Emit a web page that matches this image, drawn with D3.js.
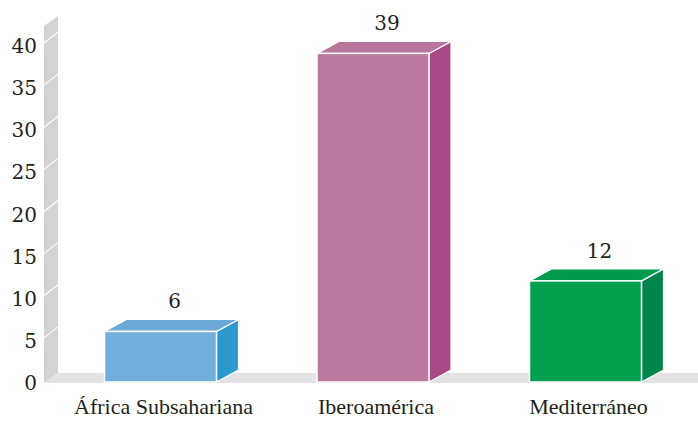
<!DOCTYPE html>
<html><head><meta charset="utf-8">
<script src="https://cdn.jsdelivr.net/npm/d3@7"></script>
<style>body{margin:0;background:#fff}svg{display:block}
svg text{font-family:"Liberation Serif","DejaVu Serif",serif;fill:#231f20}
svg text.num{font-family:"DejaVu Serif","Liberation Serif",serif}</style>
</head><body>
<svg id="chart" width="698" height="421"></svg>
<script>
const categories = ["África Subsahariana", "Iberoamérica", "Mediterráneo"];
const values = [6, 39, 12];
const tickValues = [0, 5, 10, 15, 20, 25, 30, 35, 40];
const frontColors = ["#71aedb", "#bc79a0", "#00a04f"];
const sideColors = ["#2d98cf", "#a84985", "#00864a"];
const topColors = ["#6ca9d7", "#b9759c", "#009a4c"];

const W = 698, H = 421;
const svg = d3.select("#chart");
const y = d3.scaleLinear().domain([0, 40]).range([382, 45]);
const x = d3.scaleBand().domain(categories).range([50, 696]).paddingInner(0.473).paddingOuter(0.2565);
const dx = 22, dy = 12;       // bar depth
const wx0 = 44, wx1 = 58;     // wall

// wall
svg.append("polygon")
  .attr("points", [[wx0, 26], [wx1, 16], [wx1, y(0) - 9], [wx0, y(0) + 1]].map(p => p.join(",")).join(" "))
  .attr("fill", "#d3d3d5");
// floor
svg.append("polygon")
  .attr("points", [[wx0, y(0) + 1], [wx1, y(0) - 9], [W, y(0) - 9], [W, y(0) + 1]].map(p => p.join(",")).join(" "))
  .attr("fill", "#e3e3e5");

// wall gridlines
svg.append("g").selectAll("line").data(tickValues.filter(v => v > 0)).join("line")
  .attr("x1", wx0).attr("x2", wx1)
  .attr("y1", d => y(d) - 2).attr("y2", d => y(d) - 13)
  .attr("stroke", "#fff").attr("stroke-width", 1.2);

// y axis tick labels
const yAxis = d3.axisLeft(y).tickValues(tickValues).tickSize(0).tickPadding(0);
const ya = svg.append("g").attr("transform", "translate(37,0)").call(yAxis);
ya.select(".domain").remove();
ya.attr("font-family", null);
ya.selectAll("text").attr("class", "num").style("font-size", "20px").attr("dy", "0.38em");

// bars
const bars = svg.append("g").selectAll("g").data(categories).join("g");
bars.each(function (c, i) {
  const g = d3.select(this);
  const x0 = x(c), x1 = x(c) + x.bandwidth();
  const yt = y(values[i]), yb = y(0);
  g.append("polygon")
    .attr("points", [[x1, yt], [x1 + dx, yt - dy], [x1 + dx, yb - dy], [x1, yb]].map(p => p.join(",")).join(" "))
    .attr("fill", sideColors[i]).attr("stroke", "#fff").attr("stroke-width", 1.2).attr("stroke-linejoin", "round");
  g.append("polygon")
    .attr("points", [[x0, yt], [x0 + dx, yt - dy], [x1 + dx, yt - dy], [x1, yt]].map(p => p.join(",")).join(" "))
    .attr("fill", topColors[i]).attr("stroke", "#fff").attr("stroke-width", 1.2).attr("stroke-linejoin", "round");
  g.append("rect")
    .attr("x", x0).attr("y", yt).attr("width", x.bandwidth()).attr("height", yb - yt)
    .attr("fill", frontColors[i]).attr("stroke", "#fff").attr("stroke-width", 1.5);
  g.append("text")
    .attr("class", "num")
    .attr("x", x0 + x.bandwidth() / 2 + dx / 2 + 3)
    .attr("y", yt - dy - 11)
    .attr("text-anchor", "middle")
    .style("font-size", "20px")
    .text(values[i]);
});

// category labels
const xAxis = d3.axisBottom(x).tickSize(0).tickPadding(0);
const xa = svg.append("g").attr("transform", "translate(3,398)").call(xAxis);
xa.select(".domain").remove();
xa.attr("font-family", null);
xa.selectAll("text").style("font-size", "22px").attr("dy", "0.71em");
</script>
</body></html>
